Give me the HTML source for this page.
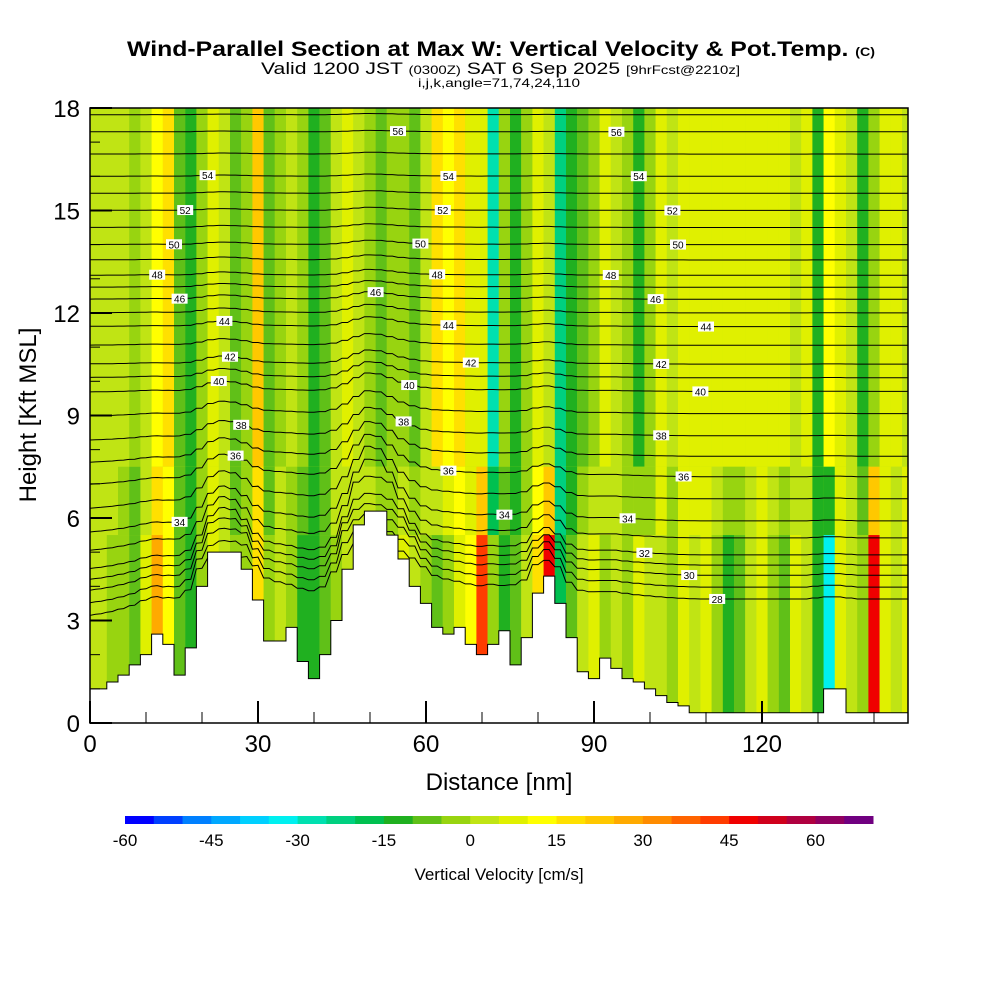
<!DOCTYPE html>
<html><head><meta charset="utf-8"><style>
body{margin:0;background:#fff}
svg text{font-family:"Liberation Sans Narrow","Liberation Sans",sans-serif}
</style></head><body>
<svg id="c" width="1000" height="1000" viewBox="0 0 1000 1000">
<text x="127" y="56" font-size="21" font-weight="bold" textLength="748" lengthAdjust="spacingAndGlyphs">Wind-Parallel Section at Max W: Vertical Velocity &amp; Pot.Temp. <tspan font-size="12">(C)</tspan></text>
<text x="261" y="74" font-size="17" textLength="479" lengthAdjust="spacingAndGlyphs">Valid 1200 JST <tspan font-size="12">(0300Z)</tspan> SAT 6 Sep 2025 <tspan font-size="12">[9hrFcst@2210z]</tspan></text>
<text x="418" y="87" font-size="12" textLength="162" lengthAdjust="spacingAndGlyphs">i,j,k,angle=71,74,24,110</text>
<defs><clipPath id="pc"><rect x="90" y="108" width="818" height="615"/></clipPath></defs>
<g id="heat" clip-path="url(#pc)"></g>
<g id="cont" clip-path="url(#pc)"></g>
<g id="terr" clip-path="url(#pc)"></g>
<g id="lbl"></g>
<g id="axes"></g>
<g id="cbar"></g>
<text x="36" y="415" transform="rotate(-90 36 415)" text-anchor="middle" font-size="24">Height [Kft MSL]</text>
<text x="499" y="790" text-anchor="middle" font-size="24">Distance [nm]</text>
<text x="499" y="880" text-anchor="middle" font-size="17">Vertical Velocity [cm/s]</text>
</svg>
<script>
// data (2 nm spacing, 0..146 nm)
const terrain=[1.0,1.0,1.2,1.4,1.7,2.0,2.6,2.3,1.4,2.2,4.0,5.0,5.0,5.0,4.5,3.6,2.4,2.4,2.8,1.8,1.3,2.0,3.0,4.5,5.8,6.2,6.2,5.5,4.8,4.0,3.5,2.8,2.6,2.8,2.3,2.0,2.3,2.7,1.7,2.5,3.8,4.3,3.5,2.5,1.5,1.3,1.9,1.6,1.3,1.2,1.0,0.8,0.6,0.5,0.3,0.3,0.3,0.3,0.3,0.3,0.3,0.3,0.3,0.3,0.3,0.3,1.0,1.0,0.3,0.3,0.3,0.3,0.3,0.3];
const wUpper=[1,0,2,4,-3,0,10,15,-8,-12,-3,6,2,-10,-2,20,-8,-2,2,-5,-12,-8,2,6,1,-5,-8,-5,-2,-6,2,15,12,18,6,8,-30,-5,-12,-3,6,2,-25,-15,-8,-2,8,4,-5,-12,-5,6,2,6,8,8,6,8,8,6,7,8,6,3,6,-12,12,6,3,-12,-5,8,6,4];
const wLower=[2,0,-2,-5,-8,6,25,12,-10,-12,-2,8,2,-5,-2,15,-5,4,-5,-12,-15,-10,-2,2,6,10,2,-2,6,2,-2,-8,-2,6,10,40,-2,-15,-10,2,15,45,-20,-10,2,6,-2,2,-2,6,2,4,-5,6,2,8,-2,-15,-10,2,6,-2,-10,6,2,-15,-35,6,2,-5,45,6,2,6];
const thetaLevels=[28,30,32,34,36,38,40,42,44,46,48,50,52,54,56];
const thetaBase=[3.6,4.3,4.9,5.9,7.2,8.4,9.7,10.5,11.6,12.4,13.1,14.0,15.0,16.0,17.3];
const xTicks=[0,30,60,90,120];
const yTicks=[0,3,6,9,12,15,18];
const cbLevels=[-60,-55,-50,-45,-40,-35,-30,-25,-20,-15,-10,-5,0,5,10,15,20,25,30,35,40,45,50,55,60,65];
const cbTicks=[-60,-45,-30,-15,0,15,30,45,60];
const cbColors=["#0000ff","#0040ff","#0080ff","#00a8ff","#00d0ff","#00f0f0","#00e0b0","#00d080","#00c050","#20b020","#60c018","#98d410","#c0e414","#e0f000","#ffff00","#ffe000","#ffc800","#ffaa00","#ff8c00","#ff6400","#ff3c00","#f00000","#d0001c","#b00040","#900060","#700080"];
const NS="http://www.w3.org/2000/svg";
const X=d=>90+d*5.6, Y=h=>723-h*34.17;
function col(w){let i=Math.floor((w+60)/5);i=Math.max(0,Math.min(25,i));return cbColors[i];}
function mk(t,a,p){const e=document.createElementNS(NS,t);for(const k in a)e.setAttribute(k,a[k]);p.appendChild(e);return e;}
const heat=document.getElementById('heat');
mk('rect',{x:90,y:108,width:818,height:615,fill:col(2)},heat);
for(let i=0;i<terrain.length;i++){
  const d=i*2;
  let r=mk('rect',{x:X(d-1),y:Y(18),width:11.3,height:Y(7.5)-Y(18),fill:col(wUpper[i])},heat);
  
  
  let m=(wUpper[i]+wLower[i])/2;
  r=mk('rect',{x:X(d-1),y:Y(7.5),width:11.3,height:Y(5.5)-Y(7.5),fill:col(m)},heat);
  
  
  r=mk('rect',{x:X(d-1),y:Y(5.5),width:11.3,height:Y(0)-Y(5.5),fill:col(wLower[i])},heat);
  
  
}
// contours
const cont=document.getElementById('cont');
function tAt(d){const i=Math.min(terrain.length-1,Math.max(0,Math.round(d/2)));return terrain[i];}
function hOf(b,d){
  const t=(tAt(d-2)+tAt(d)+tAt(d+2))/3;
  const left=d<30?(-0.9*(30-d)/30)*Math.max(0,1-b/10):0;
  return b+left+0.3*t*Math.exp(-Math.max(0,b-t)/3);
}
const labelPos={28:[112],30:[107],32:[99],34:[16,74,96],36:[26,64,106],38:[27,56,102],40:[23,57,109],42:[25,68,102],44:[24,64,110],46:[16,51,101],48:[12,62,93],50:[15,59,105],52:[17,63,104],54:[21,64,98],56:[55,94]};
const lbl=document.getElementById('lbl');
for(let k=0;k<thetaLevels.length;k++){
  for(let s=0;s<2;s++){
    const b=thetaBase[k]+(s?0.5:0)*(k<thetaLevels.length-1?thetaBase[k+1]-thetaBase[k]:1);
    let pts=[];
    for(let d=0;d<=146;d+=1){
      pts.push(X(d).toFixed(1)+','+Y(hOf(b,d)).toFixed(1));
    }
    const p=mk('polyline',{points:pts.join(' '),fill:'none',stroke:'#000','stroke-width':1},cont);
    
    
    if(!s){(labelPos[thetaLevels[k]]||[]).forEach(d=>{
      const h=hOf(b,d);
      const r=mk('rect',{x:X(d)-8,y:Y(h)-5,width:16,height:10,fill:'#fff'},lbl);
      
      
      const tx=mk('text',{x:X(d),y:Y(h)+4,'text-anchor':'middle','font-size':10},lbl);
      tx.textContent=thetaLevels[k];
      
      
    });}
  }
}
// terrain
const terr=document.getElementById('terr');
let tp=[X(0)+','+Y(0)];
for(let i=0;i<terrain.length;i++){tp.push(X(i*2-1)+','+Y(terrain[i]));tp.push(X(i*2+1)+','+Y(terrain[i]));}
tp.push(X(147)+','+Y(0));
const tg=mk('polygon',{points:tp.join(' '),fill:'#fff',stroke:'#000','stroke-width':1},terr);


// axes
const ax=document.getElementById('axes');
const fr=mk('rect',{x:90,y:108,width:818,height:615,fill:'none',stroke:'#000','stroke-width':1.5},ax);


for(let d=0;d<=140;d+=10){
  const maj=d%30===0;
  mk('line',{x1:X(d),x2:X(d),y1:723,y2:maj?701:712,stroke:'#000','stroke-width':maj?2:1},ax);
}
xTicks.forEach(v=>{const t=mk('text',{x:X(v),y:752,'text-anchor':'middle','font-size':24},ax);t.textContent=v;

});
for(let h=0;h<=18;h+=1){const maj=h%3===0;mk('line',{x1:90,x2:maj?112:100,y1:Y(h),y2:Y(h),stroke:'#000','stroke-width':maj?2:1},ax);}
yTicks.forEach(v=>{const t=mk('text',{x:80,y:Y(v)+9,'text-anchor':'end','font-size':24},ax);t.textContent=v;

});
// colorbar
const cb=document.getElementById('cbar');
const bw=748/26;
cbLevels.forEach((v,i)=>{const r=mk('rect',{x:125+i*bw,y:816,width:bw+0.5,height:8,fill:cbColors[i]},cb);

});
cbTicks.forEach(v=>{const t=mk('text',{x:125+(v+60)/5*bw,y:846,'text-anchor':'middle','font-size':17},cb);t.textContent=v;

});
</script>
</body></html>
